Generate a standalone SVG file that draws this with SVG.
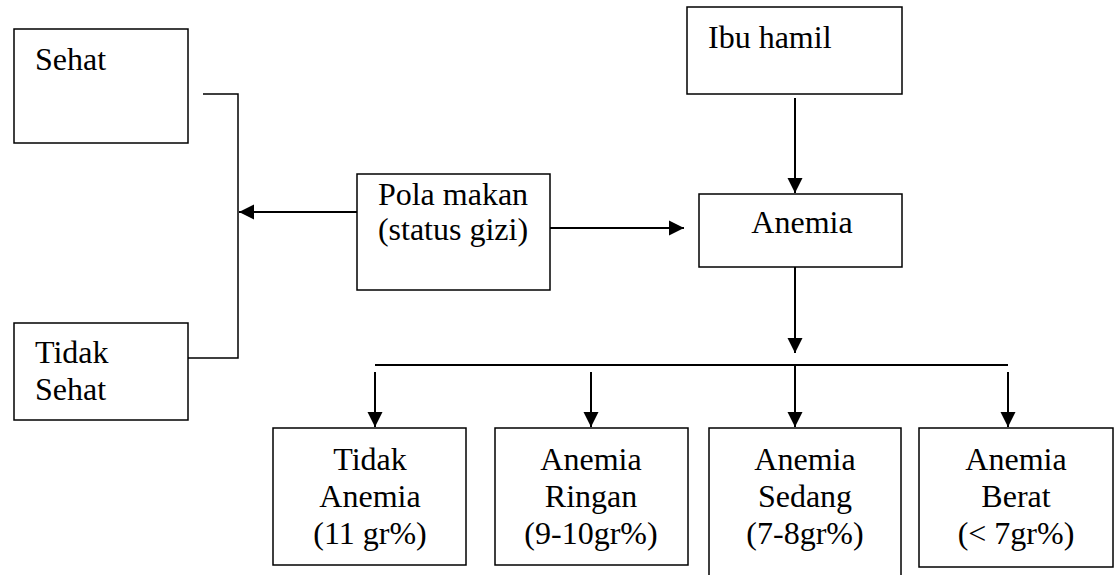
<svg xmlns="http://www.w3.org/2000/svg" width="1120" height="575" viewBox="0 0 1120 575">
<style>
.box{fill:#fff;stroke:#000;stroke-width:1.5}
.t{font-family:"Liberation Serif","Times New Roman",serif;font-size:32px;fill:#000}
.c{text-anchor:middle}
.ln{fill:none;stroke:#000;stroke-width:1.5}
.ar{fill:none;stroke:#000;stroke-width:2;marker-end:url(#ah)}
.hl{fill:none;stroke:#000;stroke-width:2}
</style>
<defs>
<marker id="ah" markerUnits="userSpaceOnUse" markerWidth="16" markerHeight="16" viewBox="0 0 16 16" refX="15" refY="8" orient="auto">
<path d="M0,0.5 L15,8 L0,15.5 Z" fill="#000"/>
</marker>
</defs>
<g id="connectors">
<path class="ln" d="M203,94 H238 V358 H188"/>
<path class="ar" d="M357,212 H239"/>
<path class="ar" d="M550,228 H684"/>
<path class="ar" d="M795,98 V193"/>
<path class="ar" d="M795,267 V353"/>
<path class="hl" d="M375,365 H1008"/>
<path class="ar" d="M375,372 V427"/>
<path class="ar" d="M591,372 V427"/>
<path class="ar" d="M795,365 V427"/>
<path class="ar" d="M1008,372 V427"/>
</g>
<g id="sehat">
<rect class="box" x="14" y="29" width="174" height="114"/>
<text class="t" x="35" y="70">Sehat</text>
</g>
<g id="tidak-sehat">
<rect class="box" x="14" y="323" width="174" height="97"/>
<text class="t" x="35" y="363">Tidak</text>
<text class="t" x="35" y="400">Sehat</text>
</g>
<g id="pola-makan">
<rect class="box" x="357" y="174" width="193" height="116"/>
<text class="t c" x="453" y="205">Pola makan</text>
<text class="t c" x="453" y="240">(status gizi)</text>
</g>
<g id="ibu-hamil">
<rect class="box" x="687" y="7" width="215" height="87"/>
<text class="t" x="708" y="48">Ibu hamil</text>
</g>
<g id="anemia">
<rect class="box" x="699" y="194" width="203" height="73"/>
<text class="t c" x="802" y="233">Anemia</text>
</g>
<g id="tidak-anemia">
<rect class="box" x="273" y="428" width="193" height="137"/>
<text class="t c" x="370" y="470">Tidak</text>
<text class="t c" x="370" y="507">Anemia</text>
<text class="t c" x="370" y="544">(11 gr%)</text>
</g>
<g id="anemia-ringan">
<rect class="box" x="495" y="428" width="193" height="137"/>
<text class="t c" x="591" y="470">Anemia</text>
<text class="t c" x="591" y="507">Ringan</text>
<text class="t c" x="591" y="544">(9-10gr%)</text>
</g>
<g id="anemia-sedang">
<rect class="box" x="709" y="428" width="192" height="160"/>
<text class="t c" x="805" y="470">Anemia</text>
<text class="t c" x="805" y="507">Sedang</text>
<text class="t c" x="805" y="544">(7-8gr%)</text>
</g>
<g id="anemia-berat">
<rect class="box" x="919" y="428" width="194" height="139"/>
<text class="t c" x="1016" y="470">Anemia</text>
<text class="t c" x="1016" y="507">Berat</text>
<text class="t c" x="1016" y="544">(&lt; 7gr%)</text>
</g>
</svg>
